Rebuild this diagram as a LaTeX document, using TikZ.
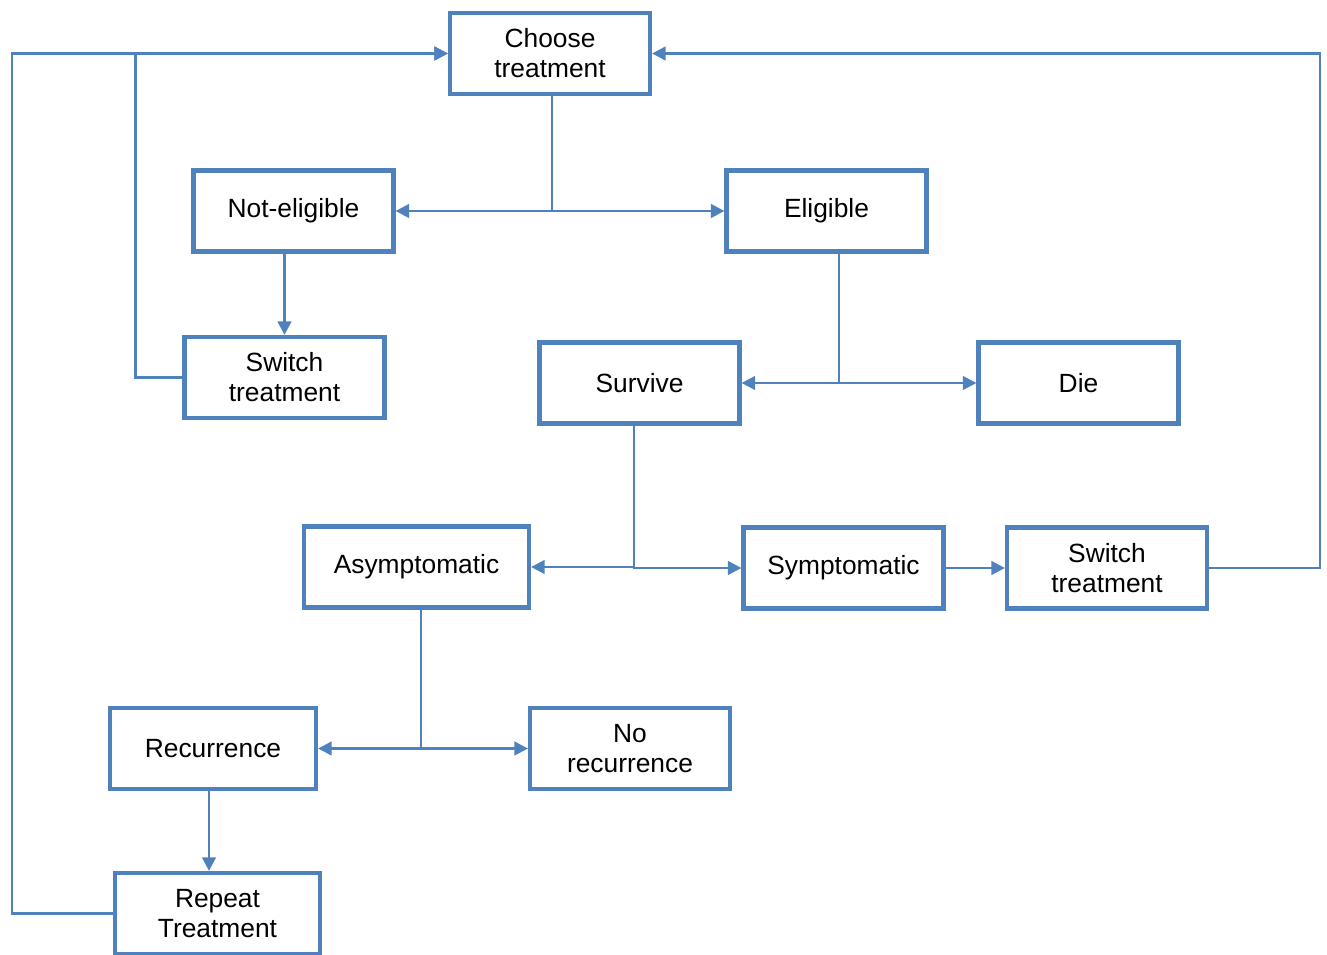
\documentclass[tikz,border=0pt]{standalone}
\usepackage{fontspec}
\setmainfont{Liberation Sans}
\usetikzlibrary{arrows.meta}
\definecolor{boxblue}{RGB}{79,129,189}

\begin{document}
\begin{tikzpicture}[x=0.02cm,y=-0.02cm,>={Triangle[length=0.27cm,width=0.27cm]},
    box node/.style={rectangle,draw=boxblue,line width=2.4pt,minimum width=4cm,minimum height=1.62cm,align=center,font=\fontsize{15}{17}\selectfont},
    link/.style={boxblue,line width=1.5pt}]

                    \useasboundingbox (0,0) rectangle (1327,955);

                    \node[box node] (choose) at (550,53.5) {Choose\\treatment};
                    \node[box node] (noteligible) at (293.5,211) {Not-eligible};
                    \node[box node] (eligible) at (826.5,211) {Eligible};
                    \node[box node] (switchL) at (284.5,377.5) {Switch\\treatment};
                    \node[box node] (survive) at (639.5,383) {Survive};
                    \node[box node] (die) at (1078.5,383) {Die};
                    \node[box node, minimum width=4.5cm] (asympt) at (416.5,567) {Asymptomatic};
                    \node[box node] (sympt) at (843.5,568) {Symptomatic};
                    \node[box node] (switchR) at (1107,568) {Switch\\treatment};
                    \node[box node, minimum width=4.12cm] (recur) at (213,748.5) {Recurrence};
                    \node[box node] (norecur) at (630,748.5) {No\\recurrence};
                    \node[box node, minimum width=4.1cm] (repeat) at (217.5,913.5) {Repeat\\Treatment};

                    \draw[link,->] ([xshift=0.04cm]choose.south) |- (noteligible.east);
                    \draw[link,->] ([xshift=0.04cm]choose.south) |- (eligible.west);
                    \draw[link,->] (noteligible.south -| switchL.north) -- (switchL.north);
                    \draw[link,->] (switchL.west) -- ++(-47,0) |- (choose.west);
                    \draw[link,->] (repeat.west) -- ++(-101,0) |- (choose.west);
                    \draw[link,->] ([xshift=0.25cm]eligible.south) |- (survive.east);
                    \draw[link,->] ([xshift=0.25cm]eligible.south) |- (die.west);
                    \draw[link,->] ([xshift=-0.11cm]survive.south) |- (asympt.east);
                    \draw[link,->] ([xshift=-0.11cm]survive.south) |- (sympt.west);
                    \draw[link,->] (sympt.east) -- (switchR.west);
                    \draw[link,->] (switchR.east) -- ++(111,0) |- (choose.east);
                    \draw[link,->] ([xshift=0.09cm]asympt.south) |- (recur.east);
                    \draw[link,->] ([xshift=0.09cm]asympt.south) |- (norecur.west);
                    \draw[link,->] ([xshift=-0.08cm]recur.south) -- ([xshift=-0.08cm]recur.south |- repeat.north);
                \end{tikzpicture}
\end{document}
